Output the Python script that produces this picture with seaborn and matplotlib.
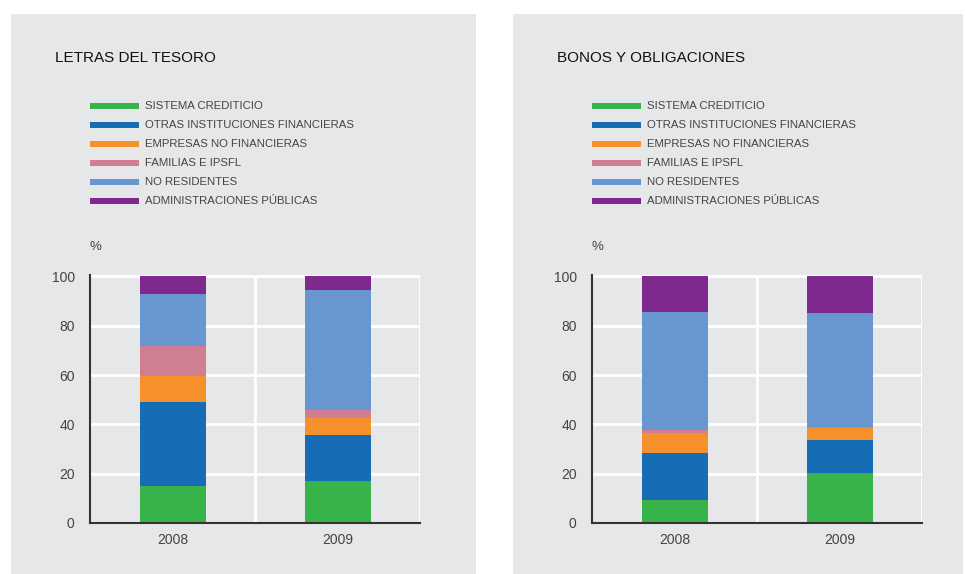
import matplotlib
matplotlib.use("Agg")
import matplotlib.pyplot as plt
import seaborn as sns
import numpy as np
from matplotlib.patches import Rectangle

sns.set_style("white")
plt.rcParams['font.family'] = ['Liberation Sans', 'DejaVu Sans']

# ---- data ----
years = ["2008", "2009"]
categories = ["SISTEMA CREDITICIO", "OTRAS INSTITUCIONES FINANCIERAS",
              "EMPRESAS NO FINANCIERAS", "FAMILIAS E IPSFL",
              "NO RESIDENTES", "ADMINISTRACIONES PÚBLICAS"]
colors = ["#37b34a", "#176db5", "#f6902c", "#d07f93", "#6896cf", "#7f288d"]

titles = ["LETRAS DEL TESORO", "BONOS Y OBLIGACIONES"]
letras = {
    "SISTEMA CREDITICIO": [15.0, 17.2],
    "OTRAS INSTITUCIONES FINANCIERAS": [34.1, 18.6],
    "EMPRESAS NO FINANCIERAS": [10.5, 6.9],
    "FAMILIAS E IPSFL": [12.2, 3.3],
    "NO RESIDENTES": [21.0, 48.5],
    "ADMINISTRACIONES PÚBLICAS": [7.2, 5.5],
}
bonos = {
    "SISTEMA CREDITICIO": [9.2, 20.3],
    "OTRAS INSTITUCIONES FINANCIERAS": [19.2, 13.5],
    "EMPRESAS NO FINANCIERAS": [8.1, 4.8],
    "FAMILIAS E IPSFL": [1.2, 0.4],
    "NO RESIDENTES": [47.9, 46.2],
    "ADMINISTRACIONES PÚBLICAS": [14.4, 14.8],
}
yticks = [0, 20, 40, 60, 80, 100]

W, H = 965, 574
fig = plt.figure(figsize=(W / 100, H / 100), dpi=100)
fig.patch.set_facecolor("white")
panel = "#e6e7e8"

def fx(px):
    return px / W

def fy(py):
    return 1 - py / H

panels = [(11, 476), (513, 963)]
axes_left = [90, 592]

for i, (data, title) in enumerate([(letras, titles[0]), (bonos, titles[1])]):
    p0, p1 = panels[i]
    fig.patches.append(Rectangle((fx(p0), 0), fx(p1 - p0), fy(14), transform=fig.transFigure,
                                 facecolor=panel, edgecolor="none", zorder=-5))
    ax = fig.add_axes([fx(axes_left[i]), fy(523), fx(330), (523 - 275) / H])
    ax.set_facecolor(panel)
    vals = np.array([data[c] for c in categories])
    cum = np.cumsum(vals, axis=0)
    # draw from top layer down so that stacking is visible
    for k in range(len(categories) - 1, -1, -1):
        sns.barplot(x=years, y=cum[k], color=colors[k], saturation=1, width=0.4,
                    ax=ax, zorder=3, linewidth=0)
    ax.set_xlim(-0.5, 1.5)
    ax.set_ylim(0, 100.6)
    ax.set_yticks(yticks)
    ax.set_yticklabels([str(t) for t in yticks])
    for t in yticks[1:]:
        ax.axhline(t, color="white", lw=2, zorder=1)
    for xv in [0.5, 1.5]:
        ax.axvline(xv, ymax=100 / 100.6, color="white", lw=2, zorder=1)
    ax.tick_params(axis="both", length=0, labelsize=10, colors="#444444")
    ax.tick_params(axis="y", pad=11)
    ax.tick_params(axis="x", pad=7)
    for s in ["top", "right"]:
        ax.spines[s].set_visible(False)
    for s in ["left", "bottom"]:
        ax.spines[s].set_color("#333333")
        ax.spines[s].set_linewidth(1.5)
        ax.spines[s].set_zorder(5)
    ax.set_xlabel("")
    ax.set_ylabel("")

    # title
    fig.text(fx(p0 + 44), fy(58), title, fontsize=11, color="#111111",
             va="center", ha="left")
    # percent sign
    fig.text(fx(axes_left[i] - 1), fy(247), "%", fontsize=9.5, color="#444444",
             va="center", ha="left")
    # legend
    for k, c in enumerate(categories):
        yc = 106 + k * 19
        fig.patches.append(Rectangle((fx(axes_left[i]), fy(yc + 3)), fx(49), 6 / H,
                                     transform=fig.transFigure, facecolor=colors[k],
                                     edgecolor="none", zorder=2))
        fig.text(fx(axes_left[i] + 55), fy(yc), c, fontsize=8.2, color="#444444",
                 va="center", ha="left")

fig.savefig("out.png", dpi=100, facecolor="white")
